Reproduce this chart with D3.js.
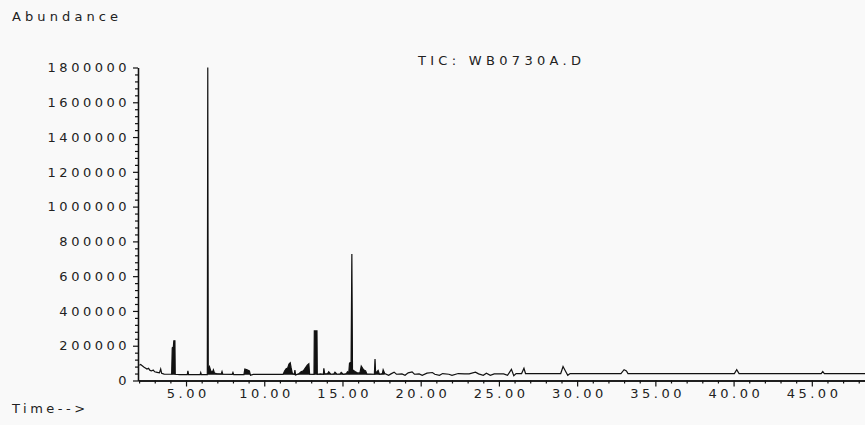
<!DOCTYPE html>
<html><head><meta charset="utf-8">
<script src="https://cdn.jsdelivr.net/npm/d3@7"></script>
<style>
html,body{margin:0;padding:0;background:#f9f9f9;}
svg{display:block;}
text{font-family:"DejaVu Sans",sans-serif;font-size:13px;fill:#222;letter-spacing:3.5px;}
</style></head>
<body>
<svg id="c" width="865" height="425"></svg>
<script>
// Retention time (min)
const times = [
  2.02,2.10,2.20,2.30,2.40,2.50,2.60,2.70,2.80,2.90,3.00,3.15,3.30,3.38,3.44,3.60,3.85,
  4.08,4.12,4.19,4.22,4.29,4.31,4.60,5.08,5.12,5.16,5.90,5.94,5.98,
  6.36,6.39,6.42,6.50,6.58,6.70,6.75,6.82,6.95,7.25,7.30,7.35,7.95,8.00,8.05,
  8.70,8.76,8.90,9.05,9.12,9.30,11.20,11.30,11.40,11.50,11.58,11.66,11.72,11.80,11.92,11.96,12.00,
  12.20,12.35,12.50,12.62,12.75,12.85,12.90,13.18,13.20,13.37,13.39,13.60,13.78,13.81,13.86,
  14.05,14.12,14.25,14.45,14.52,14.65,14.85,14.92,15.05,15.25,15.32,15.40,15.45,15.55,15.60,15.64,
  15.80,16.00,16.12,16.20,16.35,16.48,16.56,17.04,17.08,17.12,17.28,17.36,17.55,17.60,17.70,
  17.95,18.10,18.30,18.45,18.80,19.00,19.20,19.45,19.60,19.90,20.10,20.40,20.75,20.90,21.20,
  21.40,21.80,22.00,22.40,22.80,23.10,23.50,23.70,24.00,24.20,24.45,24.70,25.30,25.55,25.80,
  25.95,26.10,26.45,26.60,26.70,28.95,29.10,29.25,29.40,29.55,32.80,33.00,33.15,33.25,
  40.05,40.20,40.35,45.60,45.70,45.80,48.40
];
// Total ion current abundance
const abundance = [
  88000,92000,85000,78000,72000,66000,70000,58000,55000,60000,50000,47000,44000,66000,42000,37000,36000,
  36000,188000,192000,228000,228000,36000,34000,34000,56000,34000,34000,46000,34000,
  34000,1800000,60000,80000,55000,50000,62000,42000,40000,38000,52000,36000,35000,46000,34000,
  34000,66000,62000,55000,30000,35000,35000,55000,68000,72000,95000,102000,72000,40000,35000,60000,32000,
  38000,50000,55000,72000,88000,96000,36000,35000,285000,285000,36000,38000,36000,70000,38000,
  40000,50000,36000,38000,48000,36000,38000,47000,36000,40000,50000,42000,100000,105000,727000,62000,
  52000,42000,45000,83000,62000,55000,38000,36000,124000,42000,58000,36000,40000,62000,40000,
  30000,38000,48000,36000,38000,30000,44000,50000,36000,38000,30000,42000,46000,36000,30000,
  40000,36000,30000,40000,38000,38000,48000,38000,30000,42000,30000,38000,38000,30000,64000,
  28000,40000,40000,70000,40000,40000,80000,55000,30000,40000,40000,62000,55000,40000,
  40000,62000,40000,40000,52000,40000,40000
];
const yMajorTicks = [0,200000,400000,600000,800000,1000000,1200000,1400000,1600000,1800000];
const xMajorTicks = [5,10,15,20,25,30,35,40,45];
const title = "TIC: WB0730A.D";
const yTitle = "Abundance";
const xTitle = "Time-->";

const svg = d3.select("#c");
const x = d3.scaleLinear().domain([1.93, 48.4]).range([138, 865]);
const y = d3.scaleLinear().domain([0, 1800000]).range([380.5, 67.5]);

// minor ticks
const yMinor = d3.range(0, 1800001, 40000).filter(v => !yMajorTicks.includes(v));
const xMinor = d3.range(2, 49, 1).filter(v => !xMajorTicks.includes(v));

const gy = svg.append("g").attr("transform","translate(138,0)");
gy.call(d3.axisLeft(y).tickValues(yMinor).tickSize(3).tickSizeOuter(0).tickFormat(""));
gy.append("g").call(d3.axisLeft(y).tickValues(yMajorTicks).tickSize(5).tickSizeOuter(0).tickPadding(3).tickFormat(d3.format("d")));
const gx = svg.append("g").attr("transform","translate(0,380.5)");
gx.call(d3.axisBottom(x).tickValues(xMinor).tickSize(3).tickSizeOuter(0).tickFormat(""));
gx.append("g").call(d3.axisBottom(x).tickValues(xMajorTicks).tickSize(6).tickSizeOuter(0).tickPadding(2).tickFormat(d3.format(".2f")));
svg.selectAll(".domain").attr("stroke","#111").attr("stroke-width",1.3);
svg.selectAll(".tick line").attr("stroke","#111").attr("stroke-width",1.2);
svg.selectAll(".tick text").attr("font-family",null).attr("font-size",null).attr("fill","#222");
gx.selectAll(".tick text").attr("dx","1.75px");

// trace
const pts = times.map((t,i)=>[t, abundance[i]]);
// dense sampling in the peak region renders peaks as filled blocks
svg.append("path").datum(pts.filter(d => d[0] >= 4.0 && d[0] <= 17.9))
  .attr("fill","#111").attr("stroke","none")
  .attr("d", d3.area().x(d=>x(d[0])).y0(y(33000)).y1(d=>y(d[1])));
svg.append("path").datum(pts)
  .attr("fill","none").attr("stroke","#111").attr("stroke-width",1.2)
  .attr("d", d3.line().x(d=>x(d[0])).y(d=>y(d[1])));

svg.append("text").attr("x",12).attr("y",21).style("letter-spacing","4.1px").text(yTitle);
svg.append("text").attr("x",418).attr("y",65).style("letter-spacing","4.3px").text(title);
svg.append("text").attr("x",12).attr("y",413).text(xTitle);
</script>
</body></html>
